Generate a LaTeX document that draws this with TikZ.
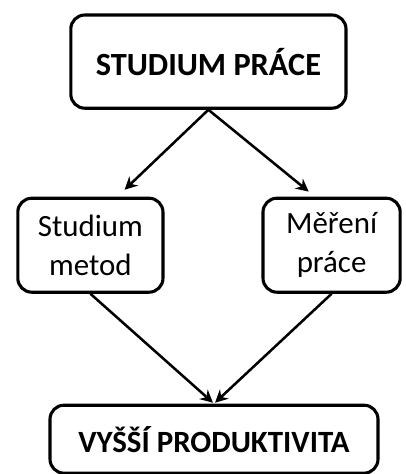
\documentclass[tikz,border=0pt]{standalone}
\usepackage{fontspec}
\setmainfont{Carlito}
\usetikzlibrary{arrows.meta}

\begin{document}
\begin{tikzpicture}[-{Stealth[length=9pt,width=9pt]},shorten >=1pt,line width=1.8pt,
                box node/.style={rectangle,rounded corners=0.35cm,draw=black,line width=2.2pt,
                  align=center,inner sep=0pt}]

            \useasboundingbox (0,0) rectangle (10.15,-11.85);

            \node[box node, minimum width=6.88cm, minimum height=2.33cm,
                  font=\fontsize{23}{28}\selectfont\bfseries] (SP) at (5.21,-1.54) {STUDIUM PRÁCE};
            \node[box node, minimum width=3.63cm, minimum height=2.35cm,
                  font=\fontsize{22}{28}\selectfont] (SM) at (2.26,-6.13) {Studium\\metod};
            \node[box node, minimum width=3.43cm, minimum height=2.35cm,
                  font=\fontsize{22}{28}\selectfont] (MP) at (8.29,-6.13) {Měření\\práce};
            \node[box node, minimum width=8.2cm, minimum height=1.7cm,
                  font=\fontsize{22}{28}\selectfont\bfseries] (VP) at (5.35,-10.98) {VYŠŠÍ PRODUKTIVITA};

            \path
            (SP.south) edge [shorten >=0.25cm] (SM.61)
            (SP.south) edge [shorten >=0.2cm] (MP.109)
            (SM.south) edge (VP.north)
            (MP.south) edge (VP.north);

        \end{tikzpicture}
\end{document}
